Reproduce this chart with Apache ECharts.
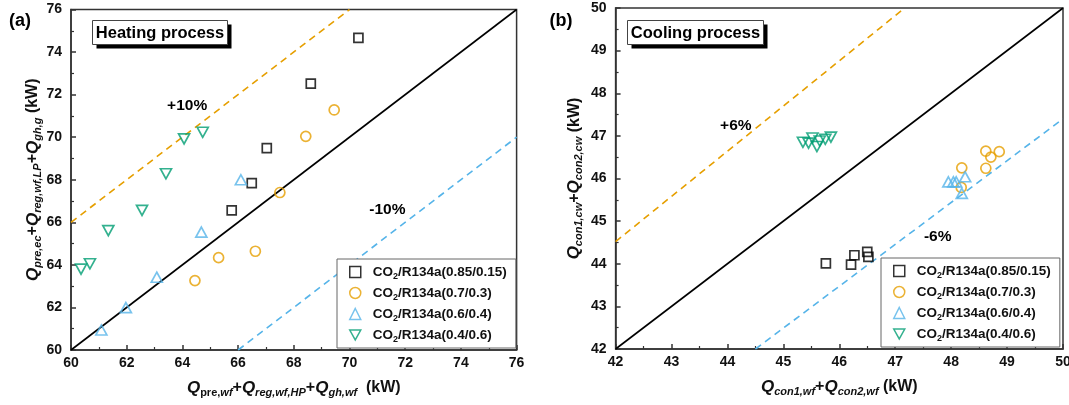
<!DOCTYPE html>
<html>
<head>
<meta charset="utf-8">
<script src="https://cdn.jsdelivr.net/npm/echarts@6/dist/echarts.min.js"></script>
<style>
  html, body { margin: 0; padding: 0; background: #fff; }
  #chart { width: 1069px; height: 405px; }
</style>
</head>
<body>
<div id="chart"></div>
<script>
const FONT = '"Liberation Sans", Arial, Helvetica, sans-serif';

// Axis ranges [min, max, interval]
const heatRange = [60, 76, 2];
const coolRange = [42, 50, 1];

// Mixture names (legend order)
const mixtures = ['0.85/0.15', '0.7/0.3', '0.6/0.4', '0.4/0.6'];

// (a) Heating process — [x, y] in kW
const heat_085 = [[65.77, 66.56], [66.49, 67.84], [67.03, 69.49], [68.61, 72.52], [70.32, 74.67]];
const heat_070 = [[64.45, 63.26], [65.30, 64.34], [66.62, 64.64], [67.50, 67.40], [68.43, 70.04], [69.45, 71.28]];
const heat_060 = [[61.09, 60.94], [61.97, 61.99], [63.08, 63.42], [64.68, 65.54], [66.10, 68.00]];
const heat_040 = [[60.36, 63.80], [60.68, 64.05], [61.34, 65.61], [62.55, 66.56], [63.41, 68.28], [64.06, 69.92], [64.73, 70.23]];

// (b) Cooling process — [x, y] in kW
const cool_085 = [[45.76, 44.01], [46.21, 43.98], [46.27, 44.20], [46.50, 44.28], [46.52, 44.16]];
const cool_070 = [[48.19, 46.25], [48.18, 45.79], [48.62, 46.64], [48.71, 46.50], [48.86, 46.63], [48.62, 46.24]];
const cool_060 = [[47.95, 45.92], [48.04, 45.92], [48.09, 45.92], [48.25, 46.04], [48.19, 45.65]];
const cool_040 = [[45.35, 46.85], [45.45, 46.83], [45.52, 46.95], [45.60, 46.75], [45.65, 46.88], [45.75, 46.92], [45.85, 46.97]];

// Reference lines
const heatParity = [[60, 60], [76, 76]];
const heatUpper = [[60, 66], [70, 76]];
const heatLower = [[66, 60], [76, 70]];
const coolParity = [[42, 42], [50, 50]];
const coolUpper = [[42, 44.52], [47.17, 50]];
const coolLower = [[44.5, 42], [50, 47.4]];

// Annotation texts [x, y, text]
const heatNotes = [[64.17, 71.48, '+10%'], [71.36, 66.59, '-10%']];
const coolNotes = [[44.15, 47.25, '+6%'], [47.76, 44.63, '-6%']];

const COLORS = ['#000000', '#E69F00', '#56B4E9', '#009E73'];
const SYMBOLS = ['rect', 'circle', 'triangle', 'triangle'];
const ROTATE = [0, 0, 0, 180];
const SIZES = [9, 10, [11, 10], [11, 10]];
// Legend icons (the last one is a downward triangle)
const LEGEND_ICONS = ['rect', 'circle', 'triangle', 'path://M0,0L2,0L1,1.8Z'];

const seriesName = m => 'CO2/R134a(' + m + ')';

const nameRich = {
  q: { fontFamily: FONT, fontWeight: 'bold', fontStyle: 'italic', fontSize: 17, lineHeight: 20, color: '#111' },
  m: { fontFamily: FONT, fontWeight: 'bold', fontSize: 16, lineHeight: 20, color: '#111' },
  si: { fontFamily: FONT, fontWeight: 'bold', fontStyle: 'italic', fontSize: 11, verticalAlign: 'bottom', color: '#111' },
  su: { fontFamily: FONT, fontWeight: 'bold', fontSize: 11, verticalAlign: 'bottom', color: '#111' }
};

function axis(gridIndex, range, name, isY, gap) {
  return {
    type: 'value',
    gridIndex: gridIndex,
    min: range[0], max: range[1], interval: range[2],
    name: name,
    nameLocation: 'middle',
    nameGap: gap,
    nameRotate: isY ? 90 : 0,
    nameMoveOverlap: false,
    nameTextStyle: { fontFamily: FONT, fontSize: 16, fontWeight: 'bold', lineHeight: 20, color: '#111', rich: nameRich },
    axisLine: { show: true, onZero: false, lineStyle: { color: '#333', width: 1.5 } },
    axisTick: { show: true, inside: true, length: 5, lineStyle: { color: '#333', width: 1.5 } },
    minorTick: { show: true, splitNumber: 2, length: 3, lineStyle: { color: '#333', width: 1.2 } },
    axisLabel: { color: '#111', fontFamily: FONT, fontWeight: 'bold', fontSize: 14, margin: isY ? 9 : 6 },
    splitLine: { show: false }
  };
}

function scatterSeries(idx, data, gridIndex) {
  return {
    type: 'scatter',
    name: seriesName(mixtures[idx]),
    xAxisIndex: gridIndex, yAxisIndex: gridIndex,
    data: data,
    symbol: SYMBOLS[idx],
    symbolSize: SIZES[idx],
    symbolRotate: ROTATE[idx],
    itemStyle: { color: 'rgba(255,255,255,0)', borderColor: COLORS[idx], borderWidth: 1.7 },
    z: 5
  };
}

function lineSeries(data, gridIndex, color, dashed) {
  return {
    type: 'line',
    xAxisIndex: gridIndex, yAxisIndex: gridIndex,
    data: data,
    symbol: 'none',
    silent: true,
    lineStyle: { color: color, width: 1.6, type: dashed ? [7, 5] : 'solid' },
    z: 2
  };
}

function legend(left, top) {
  return {
    orient: 'vertical',
    left: left, top: top,
    padding: [4, 9, 4, 12],
    itemGap: 3,
    itemWidth: 11,
    itemHeight: 11,
    borderColor: '#666',
    borderWidth: 1,
    backgroundColor: '#fff',
    data: mixtures.map((m, i) => ({
      name: seriesName(m),
      icon: LEGEND_ICONS[i],
      itemStyle: { color: 'rgba(255,255,255,0)', borderColor: COLORS[i], borderWidth: 1.5 }
    })),
    formatter: n => n.replace('CO2', 'CO{s|2}'),
    textStyle: {
      fontFamily: FONT, fontWeight: 'bold', fontSize: 13.5, lineHeight: 18, color: '#111',
      padding: [0, 0, 0, 7],
      rich: { s: { fontFamily: FONT, fontWeight: 'bold', fontSize: 9, verticalAlign: 'bottom', color: '#111' } }
    }
  };
}

function titleBox(x, y, w, h, text) {
  return {
    type: 'group', left: x, top: y, z: 20,
    children: [
      { type: 'rect', shape: { x: 4, y: 4, width: w, height: h }, style: { fill: '#000' } },
      { type: 'rect', shape: { x: 0, y: 0, width: w, height: h }, style: { fill: '#fff', stroke: '#444', lineWidth: 1 } },
      { type: 'text', x: w / 2, y: h / 2 + 1, style: { text: text, fontFamily: FONT, fontWeight: 'bold', fontSize: 16.5, fill: '#000', align: 'center', verticalAlign: 'middle' } }
    ]
  };
}

const heatXName = '{q|Q}{su|pre,}{si|wf}{m|+}{q|Q}{si|reg,wf,HP}{m|+}{q|Q}{si|gh,wf}{m|  (kW)}';
const heatYName = '{q|Q}{si|pre,ec}{m|+}{q|Q}{si|reg,wf,LP}{m|+}{q|Q}{si|gh,g}{m| (kW)}';
const coolXName = '{q|Q}{si|con1,wf}{m|+}{q|Q}{si|con2,wf}{m| (kW)}';
const coolYName = '{q|Q}{si|con1,cw}{m|+}{q|Q}{si|con2,cw}{m| (kW)}';

const chart = echarts.init(document.getElementById('chart'), null, { renderer: 'canvas' });

const option = {
  backgroundColor: '#fff',
  animation: false,
  grid: [
    { left: 71, right: 552.4, top: 9.5, bottom: 55, show: true, borderColor: '#333', borderWidth: 1.5, backgroundColor: 'transparent', outerBoundsMode: 'none' },
    { left: 615.6, right: 6, top: 8, bottom: 56, show: true, borderColor: '#333', borderWidth: 1.5, backgroundColor: 'transparent', outerBoundsMode: 'none' }
  ],
  xAxis: [
    axis(0, heatRange, heatXName, false, 28),
    axis(1, coolRange, coolXName, false, 28)
  ],
  yAxis: [
    axis(0, heatRange, heatYName, true, 28),
    axis(1, coolRange, coolYName, true, 31)
  ],
  legend: [legend(337, 259), legend(881, 258)],
  series: [
    lineSeries(heatParity, 0, '#000', false),
    lineSeries(heatUpper, 0, '#E69F00', true),
    lineSeries(heatLower, 0, '#56B4E9', true),
    lineSeries(coolParity, 1, '#000', false),
    lineSeries(coolUpper, 1, '#E69F00', true),
    lineSeries(coolLower, 1, '#56B4E9', true),
    scatterSeries(0, heat_085, 0),
    scatterSeries(1, heat_070, 0),
    scatterSeries(2, heat_060, 0),
    scatterSeries(3, heat_040, 0),
    scatterSeries(0, cool_085, 1),
    scatterSeries(1, cool_070, 1),
    scatterSeries(2, cool_060, 1),
    scatterSeries(3, cool_040, 1)
  ]
};

chart.setOption(option);

// Panel letters, title boxes and percentage notes
const graphics = [
  { type: 'text', x: 20, y: 21, style: { text: '(a)', fontFamily: FONT, fontWeight: 'bold', fontSize: 18, fill: '#000', align: 'center', verticalAlign: 'middle' } },
  { type: 'text', x: 561, y: 21, style: { text: '(b)', fontFamily: FONT, fontWeight: 'bold', fontSize: 18, fill: '#000', align: 'center', verticalAlign: 'middle' } },
  titleBox(92, 20, 135, 24, 'Heating process'),
  titleBox(627, 20, 136, 24, 'Cooling process')
];
function addNotes(notes, gridIndex) {
  notes.forEach(n => {
    const p = chart.convertToPixel({ gridIndex: gridIndex }, [n[0], n[1]]);
    graphics.push({ type: 'text', x: p[0], y: p[1], z: 10, style: { text: n[2], fontFamily: FONT, fontWeight: 'bold', fontSize: 15.5, fill: '#000', align: 'center', verticalAlign: 'middle' } });
  });
}
addNotes(heatNotes, 0);
addNotes(coolNotes, 1);
chart.setOption({ graphic: graphics });
</script>
</body>
</html>
